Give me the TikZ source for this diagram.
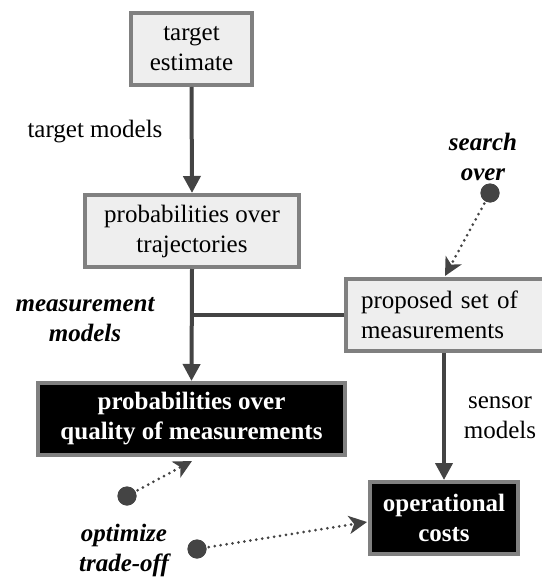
\documentclass[tikz,border=0pt]{standalone}
\usepackage{fontspec}
\setmainfont{Liberation Serif}
\usetikzlibrary{arrows.meta,calc}

\definecolor{boxfill}{HTML}{EEEEEE}
\definecolor{boxgray}{HTML}{808080}
\definecolor{linegray}{HTML}{444444}

\tikzset{
  lightbox/.style={draw=boxgray, line width=4pt, fill=boxfill, minimum height=72pt,
    inner sep=0pt, align=center, font=\fontsize{25}{30}\selectfont},
  darkbox/.style={lightbox, fill=black, text=white,
    font=\fontsize{25}{30}\selectfont\bfseries},
  flow/.style={draw=linegray, line width=4pt, -{Triangle[length=17pt,width=17pt]}},
  hint/.style={draw=linegray, line width=3pt, line cap=round, dash pattern=on 0pt off 6pt,
    -{Stealth[length=18pt,width=18pt,inset=5pt]}},
  knob/.style={circle, fill=linegray, minimum size=19pt, inner sep=0pt},
  lbl/.style={font=\fontsize{25}{30}\selectfont, align=center},
  emphlbl/.style={font=\fontsize{25}{30}\selectfont\bfseries\itshape, align=center}
}

\begin{document}
\begin{tikzpicture}[x=1pt, y=-1pt]
  \useasboundingbox (0,0) rectangle (541,580);

  % boxes
  \node[lightbox, minimum width=121pt] (te) at (191.5,49) {target\\estimate};
  \node[lightbox, minimum width=214pt] (pt) at (192,231) {probabilities over\\trajectories};
  \node[lightbox, minimum width=200pt, text width=170pt, inner xsep=15pt, align=left]
       (pm) at (446,315) {proposed set of\\measurements};
  \node[darkbox, minimum width=307pt] (qm) at (191.5,419) {probabilities over\\quality of measurements};
  \node[darkbox, minimum width=148pt] (oc) at (444,518) {operational\\costs};

  % labels
  \node[lbl] (ltm) at (95,132) {target models};
  \node[lbl] (lsm) at (500,418) {sensor\\models};
  \node[emphlbl] (lmm) at (85,320) {measurement\\models};
  \node[emphlbl] (lso) at (483,157) {search\\over};
  \node[emphlbl] (lot) at (124,550) {optimize\\trade-off};

  % main flow
  \coordinate (j) at (pt.south |- pm.west);
  \draw[flow] (te.south) -- (pt.north);
  \draw[flow] (pt.south) -- (qm.north);
  \draw[draw=linegray, line width=4pt] (pm.west) -- (j);
  \draw[flow] (oc.north |- pm.south) -- (oc.north);

  % handles
  \node[knob] (d1) at (490,193) {};
  \node[knob] (d2) at (127,496) {};
  \node[knob] (d3) at (197,549) {};
  \coordinate (t1) at (445,276);
  \coordinate (t2) at (192,461);
  \coordinate (t3) at ($(oc.west)+(-1,4)$);
  \draw[hint] (d1.center) -- (t1);
  \draw[hint] (d2.center) -- (t2);
  \draw[hint] (d3.center) -- (t3);
  \node[knob] at (d1) {};
  \node[knob] at (d2) {};
  \node[knob] at (d3) {};
\end{tikzpicture}
\end{document}
